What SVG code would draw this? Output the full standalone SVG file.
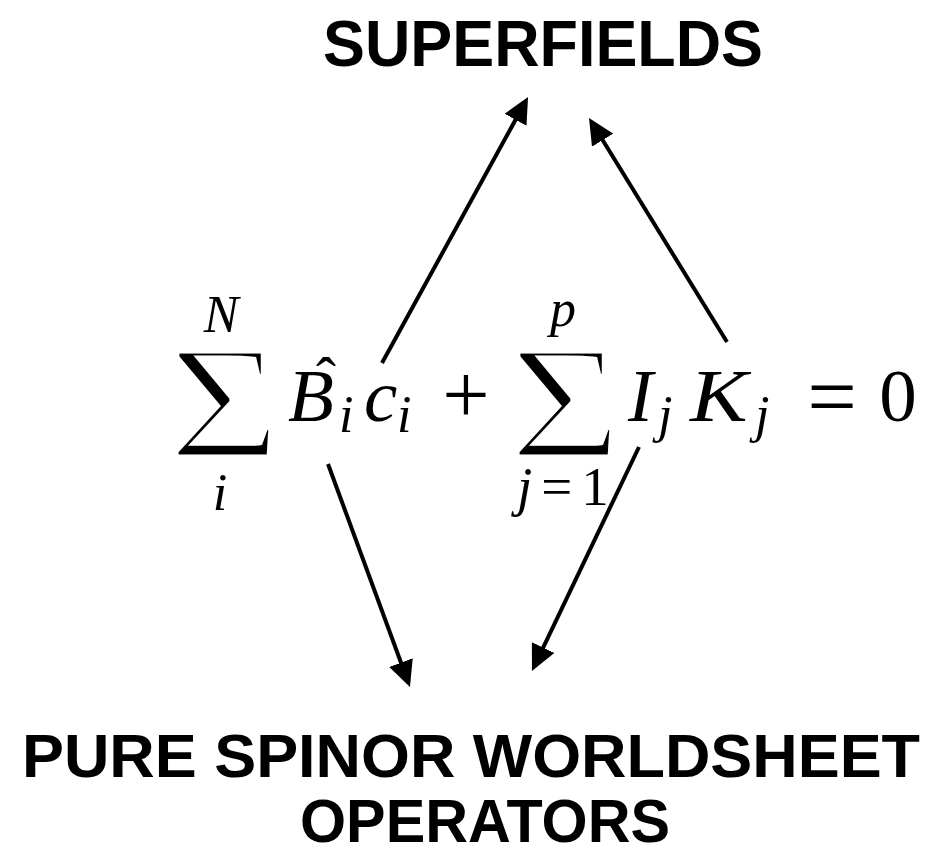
<svg xmlns="http://www.w3.org/2000/svg" width="941" height="856" viewBox="0 0 941 856">
<style>
.title{font-family:"Liberation Sans",Arial,Helvetica,sans-serif;font-weight:bold;fill:#000}
.m{font-family:"Liberation Serif","Times New Roman",serif;fill:#000}
.it{font-style:italic}
.sum{stroke:#fff;stroke-width:5;stroke-linejoin:miter}
.conn line{stroke:#000;stroke-width:4;fill:none;marker-end:url(#ah)}
</style>
<defs>
<marker id="ah" markerUnits="userSpaceOnUse" viewBox="0 0 26 25" markerWidth="26" markerHeight="25" refX="18" refY="12.5" orient="auto">
<path d="M0,0 L26,12.5 L0,25 z" fill="#000"/>
</marker>
</defs>
<rect width="941" height="856" fill="#fff"/>
<g id="superfields">
<text class="title" x="543" y="66" font-size="65" text-anchor="middle" textLength="440" lengthAdjust="spacingAndGlyphs">SUPERFIELDS</text>
</g>
<g id="equation">
<text class="m sum" transform="translate(168,0) scale(1.2,1)" x="0" y="457" font-size="162">Σ</text>
<text class="m it" x="221" y="332" font-size="52" text-anchor="middle">N</text>
<text class="m it" x="220" y="510" font-size="52" text-anchor="middle">i</text>
<text class="m" x="326" y="398" font-size="60" text-anchor="middle">ˆ</text>
<text class="m it" x="288" y="421" font-size="75">B</text>
<text class="m it" x="339" y="432" font-size="52">i</text>
<text class="m it" x="364" y="421" font-size="75">c</text>
<text class="m it" x="397" y="432" font-size="52">i</text>
<text class="m" x="466" y="423" font-size="84" text-anchor="middle">+</text>
<text class="m sum" transform="translate(509,0) scale(1.2,1)" x="0" y="457" font-size="162">Σ</text>
<text class="m it" x="563" y="326" font-size="52" text-anchor="middle">p</text>
<text class="m" x="517" y="505" font-size="55" letter-spacing="9"><tspan class="it">j</tspan>=1</text>
<text class="m it" x="628" y="421" font-size="75">I</text>
<text class="m it" x="658" y="432" font-size="52">j</text>
<text class="m it" x="690" y="421" font-size="75" transform="translate(690,0) scale(1.15,1) translate(-690,0)">K</text>
<text class="m it" x="755" y="432" font-size="52">j</text>
<text class="m" x="832" y="426" font-size="88" text-anchor="middle">=</text>
<text class="m" x="898" y="421" font-size="75" text-anchor="middle">0</text>
</g>
<g id="operators">
<text class="title" x="471" y="777" font-size="62" text-anchor="middle" textLength="898" lengthAdjust="spacingAndGlyphs">PURE SPINOR WORLDSHEET</text>
<text class="title" x="485" y="842" font-size="62" text-anchor="middle" textLength="370" lengthAdjust="spacingAndGlyphs">OPERATORS</text>
</g>
<g id="connectors" class="conn">
<line x1="382" y1="363" x2="524.2" y2="104"/>
<line x1="727" y1="342" x2="593.2" y2="124.8"/>
<line x1="328" y1="464" x2="407.2" y2="679.5"/>
<line x1="639" y1="447" x2="535.4" y2="663.8"/>
</g>
</svg>
